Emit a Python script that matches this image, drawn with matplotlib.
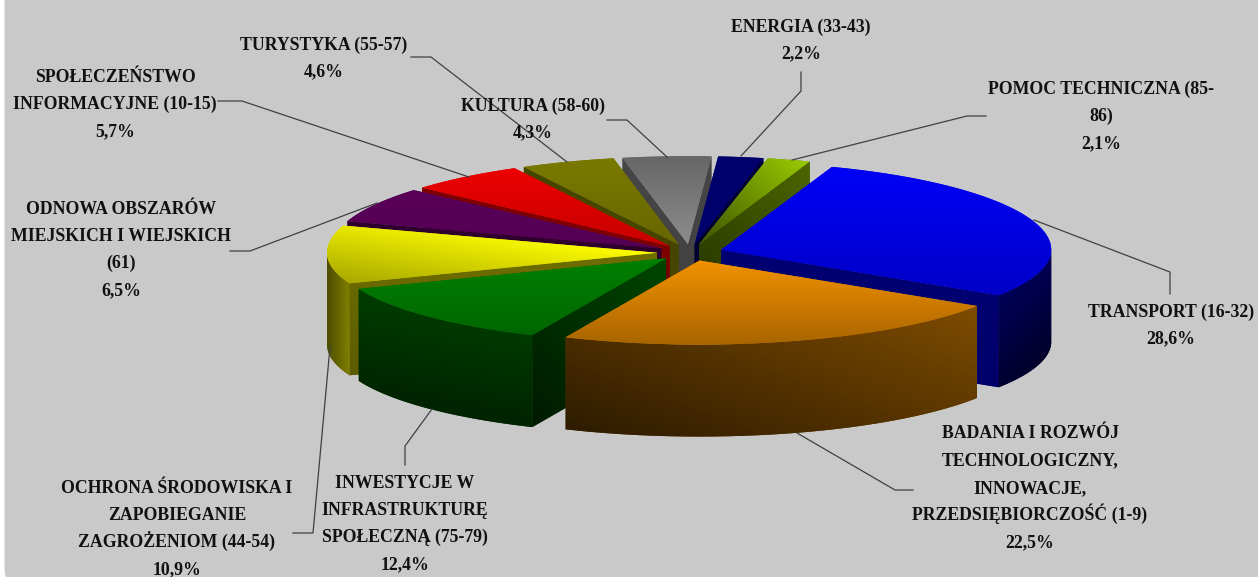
import numpy as np
import matplotlib
matplotlib.use("Agg")
import matplotlib.pyplot as plt
from matplotlib.patches import Polygon, FancyBboxPatch

# ---- data -------------------------------------------------------------
names = ["TRANSPORT (16-32)",
         "BADANIA I ROZWÓJ\nTECHNOLOGICZNY,\nINNOWACJE,\nPRZEDSIĘBIORCZOŚĆ (1-9)",
         "INWESTYCJE W\nINFRASTRUKTURĘ\nSPOŁECZNĄ (75-79)",
         "OCHRONA ŚRODOWISKA I\nZAPOBIEGANIE\nZAGROŻENIOM (44-54)",
         "ODNOWA OBSZARÓW\nMIEJSKICH I WIEJSKICH\n(61)",
         "SPOŁECZEŃSTWO\nINFORMACYJNE (10-15)",
         "TURYSTYKA (55-57)",
         "KULTURA (58-60)",
         "ENERGIA (33-43)",
         "POMOC TECHNICZNA (85-\n86)"]
shares = [28.6, 22.5, 12.4, 10.9, 6.5, 5.7, 4.6, 4.3, 2.2, 2.1]

# ---- styles -----------------------------------------------------------
colors = [(0, 0, 255), (255, 153, 0), (0, 128, 0), (255, 255, 0), (102, 0, 102),
          (255, 0, 0), (128, 128, 0), (128, 128, 128), (0, 0, 128), (153, 204, 0)]
# gradient = (dir x, dir y, factor at start, factor at end)
top_grad = [(0, 1, .97, .78), (0, 1, .95, .66), (0, 1, 1.0, .8), (-.15, 1, 1.0, .66),
            (0, 1, .88, .82), (0, 1, .93, .78), (0, 1, .95, .8), (0, 1, .8, 1.1),
            (0, 1, .85, .85), (-1, 1, 1.0, .4)]
arc_grad = [(1, 1, .35, .16), (-.36, 1, .5, .18), (-.2, 1, .48, .27), (1, 0, .3, .5),
            (0, 1, .4, .4), (0, 1, .4, .4), (0, 1, .4, .4), (0, 1, .4, .4),
            (0, 1, .4, .4), (0, 1, .4, .4)]
wall_grad = [(0, 1, .45, .42), (0, 1, .4, .3), (-1, 1, .55, .2), (0, 1, .43, .36),
             (0, 1, .45, .45), (0, 1, .5, .5), (0, 1, .55, .55), (0, 1, .55, .5),
             (0, 1, .45, .3), (-1, 1, .5, .22)]
draw_order = [7, 8, 9, 6, 5, 4, 3, 0, 2, 1]

# centre x of the label, centre y of its first line
label_xy = [(1171, 310), (1030, 432), (405, 481), (177, 486.5), (121, 207),
            (115, 75), (324, 43), (533, 104), (801, 25), (1101, 87)]
LINE_STEP = 27.2
leaders = [[(1034, 220), (1170, 272), (1170, 294)],
           [(797, 433), (895, 490), (913, 490)],
           [(432, 409), (405, 446), (405, 465)],
           [(330, 347), (313, 533), (293, 533)],
           [(377, 203), (250, 251), (230, 251)],
           [(469, 177), (242, 101), (218, 101)],
           [(567, 162), (431, 57), (411, 57)],
           [(667, 157), (627, 120), (607, 120)],
           [(741, 156), (801, 91), (801, 72)],
           [(792, 160), (967, 116), (986, 116)]]

CX, CY, RX, RY_FRONT, RY_BACK, DEPTH, EXPLODE = 690, 252.5, 330, 84, 88, 92, 0.10
START = 70.4
BG = "#c9c9c9"

plt.rcParams["font.family"] = ["Liberation Serif", "DejaVu Serif"]
fig = plt.figure(figsize=(12.58, 5.77), dpi=100, facecolor="white")
ax = fig.add_axes([0, 0, 1, 1])
ax.set_xlim(0, 1258)
ax.set_ylim(577, 0)
ax.axis("off")
ax.add_patch(FancyBboxPatch((4.5, -40), 1300, 625, boxstyle="round,pad=0,rounding_size=16",
                            facecolor=BG, edgecolor="none", zorder=0))
z = [1]


def gradient_poly(xy, color, grad):
    """Fill a polygon with a linear shade of its base colour."""
    xy = np.asarray(xy)
    base = np.array(color, float) / 255
    gx, gy, f0, f1 = grad
    patch = Polygon(xy, closed=True, facecolor=np.clip(base * (f0 + f1) / 2, 0, 1),
                    edgecolor="none", zorder=z[0])
    ax.add_patch(patch)
    x0, y0 = np.floor(xy.min(axis=0))
    x1, y1 = np.ceil(xy.max(axis=0))
    xs = np.arange(x0, x1 + 1) + .5
    ys = np.arange(y0, y1 + 1) + .5
    X, Y = np.meshgrid(xs, ys)
    p = gx * X + gy * Y
    pv = gx * xy[:, 0] + gy * xy[:, 1]
    t = (p - pv.min()) / max(pv.max() - pv.min(), 1e-6)
    f = f0 + (f1 - f0) * np.clip(t, 0, 1)
    img = np.clip(f[..., None] * base, 0, 1)
    im = ax.imshow(img, extent=(x0, x1 + 1, y1 + 1, y0), origin="upper", aspect="auto",
                   interpolation="nearest", zorder=z[0])
    im.set_clip_path(patch)
    z[0] += 1


def rim_xy(tx, ty, deg):
    r = np.radians(deg)
    s = np.sin(r)
    return tx + RX * np.cos(r), ty - np.where(s > 0, RY_BACK, RY_FRONT) * s


fractions = np.array(shares) / sum(shares) * 360
ends = START - np.cumsum(fractions)
starts = ends + fractions

for i in draw_order:
    a0, a1 = starts[i], ends[i]
    mid = np.radians((a0 + a1) / 2)
    tx = CX + EXPLODE * RX * np.cos(mid)
    ty = CY - EXPLODE * RY_FRONT * np.sin(mid)
    deg = np.linspace(a0, a1, 120)
    ax_x, ax_y = rim_xy(tx, ty, deg)
    # radial walls seen by the viewer
    for a, sign in ((a0, -1), (a1, 1)):
        if sign * np.cos(np.radians(a)) > 0:
            px, py = rim_xy(tx, ty, a)
            gradient_poly([(tx, ty), (px, py), (px, py + DEPTH), (tx, ty + DEPTH)],
                          colors[i], wall_grad[i])
    # outer rim, front-facing part
    vis = np.sin(np.radians(deg)) <= 0
    if vis.sum() > 1:
        rx_, ry_ = ax_x[vis], ax_y[vis]
        rim = np.r_[np.c_[rx_, ry_], np.c_[rx_[::-1], ry_[::-1] + DEPTH]]
        gradient_poly(rim, colors[i], arc_grad[i])
    # top face
    gradient_poly(np.r_[[(tx, ty)], np.c_[ax_x, ax_y]], colors[i], top_grad[i])

for pts in leaders:
    xs, ys = zip(*pts)
    ax.plot(xs, ys, color="#404040", lw=0.9, zorder=200, solid_joinstyle="miter")

for name, share, (x, y) in zip(names, shares, label_xy):
    lines = name.split("\n") + [f"{share:.1f}".replace(".", ",") + "%"]
    for k, line in enumerate(lines):
        ax.text(x, y + k * LINE_STEP + 6.5, line, ha="center", va="baseline", fontsize=12.8,
                fontweight="bold", color="#111111", zorder=300, clip_on=False)

ax.set_xlim(0, 1258)
ax.set_ylim(577, 0)
fig.savefig("out.png", dpi=100, facecolor="white")
